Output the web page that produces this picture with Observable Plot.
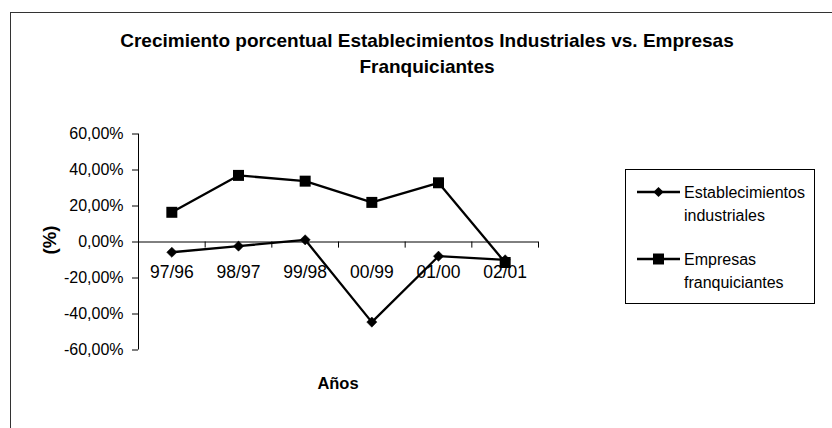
<!DOCTYPE html>
<html><head><meta charset="utf-8">
<script src="https://cdn.jsdelivr.net/npm/d3@7"></script>
<script src="https://cdn.jsdelivr.net/npm/@observablehq/plot@0.6"></script>
<style>
body{margin:0;background:#fff;font-family:"Liberation Sans",Arial,sans-serif;color:#000;}
#wrap{position:relative;width:832px;height:428px;overflow:hidden;background:#fff;}
#wrap svg.plot{position:absolute;left:0;top:0;}
#frame{position:absolute;left:10px;top:12px;width:900px;height:500px;border-top:1px solid #333;border-left:1px solid #333;}
#title{position:absolute;left:27px;width:800px;top:28px;text-align:center;font-weight:bold;font-size:19px;line-height:26px;}
#ylab{position:absolute;left:50px;top:240px;transform:translate(-50%,-50%) rotate(-90deg);font-weight:bold;font-size:18.5px;white-space:nowrap;}
#xlab{position:absolute;left:338px;top:383px;transform:translate(-50%,-50%);font-weight:bold;font-size:16.5px;}
#legend{position:absolute;left:625px;top:169px;width:190px;height:135px;border:1px solid #000;box-sizing:border-box;}
</style></head><body><div id="wrap"><div id="frame"></div></div>
<script>
const titleLines = ["Crecimiento porcentual Establecimientos Industriales vs. Empresas", "Franquiciantes"];
const yLabel = "(%)";
const xLabel = "Años";
const years = ["97/96","98/97","99/98","00/99","01/00","02/01"];
const establecimientos = [-5.7, -2.3, 1.2, -44.5, -7.9, -9.9];
const empresas = [16.5, 37.0, 33.8, 22.0, 32.9, -11.4];
const yTicks = [-60, -40, -20, 0, 20, 40, 60];
const seriesNames = ["Establecimientos industriales", "Empresas franquiciantes"];
const legendLines = [["Establecimientos", "industriales"], ["Empresas", "franquiciantes"]];

const rows = [];
years.forEach((y, i) => {
  rows.push({i, year: y, value: establecimientos[i], series: seriesNames[0]});
  rows.push({i, year: y, value: empresas[i], series: seriesNames[1]});
});
const boundaries = d3.range(years.length).map(i => i + 0.5);
const fmt = v => v.toFixed(2).replace(".", ",") + "%";

const wrap = document.getElementById("wrap");

const plot = Plot.plot({
  width: 832, height: 428,
  marginLeft: 138, marginRight: 294, marginTop: 133.5, marginBottom: 78.5,
  x: {type: "linear", domain: [-0.5, years.length - 0.5], axis: null},
  y: {domain: [-60, 60], axis: null},
  style: {fontFamily: "'Liberation Sans', Arial, sans-serif", fontSize: "16px", color: "#000", background: "transparent"},
  marks: [
    Plot.ruleX([-0.5], {stroke: "#000", strokeWidth: 1}),
    Plot.ruleY([0], {stroke: "#000", strokeWidth: 1}),
    Plot.ruleX(boundaries, {x: d => d, y1: 0, y2: -3.4, stroke: "#000"}),
    Plot.axisY(yTicks, {anchor: "left", tickSize: 6, tickPadding: 9, tickFormat: fmt, label: null, fontSize: 16}),
    Plot.text(years, {x: (d, i) => i, y: 0, dy: 30, text: d => d, fontSize: 17.5, fill: "#000"}),
    Plot.line(rows.filter(d => d.series === seriesNames[1]), {x: "i", y: "value", stroke: "#000", strokeWidth: 2.3}),
    Plot.line(rows.filter(d => d.series === seriesNames[0]), {x: "i", y: "value", stroke: "#000", strokeWidth: 2.3}),
    Plot.dot(rows.filter(d => d.series === seriesNames[1]), {x: "i", y: "value", symbol: "square", r: 6.2, fill: "#000", stroke: "none"}),
    Plot.dot(rows.filter(d => d.series === seriesNames[0]), {x: "i", y: "value", symbol: "diamond2", r: 4.6, fill: "#000", stroke: "#000", strokeWidth: 0.5})
  ]
});
plot.classList.add("plot");
wrap.appendChild(plot);

const title = document.createElement("div");
title.id = "title";
title.innerHTML = titleLines.join("<br>");
wrap.appendChild(title);

const yl = document.createElement("div");
yl.id = "ylab"; yl.textContent = yLabel; wrap.appendChild(yl);
const xl = document.createElement("div");
xl.id = "xlab"; xl.textContent = xLabel; wrap.appendChild(xl);

// legend
const legend = document.createElement("div");
legend.id = "legend";
wrap.appendChild(legend);
const lsvg = d3.select(legend).append("svg").attr("width", 190).attr("height", 135).style("position", "absolute").style("left", "-1px").style("top", "-1px");
const symbols = [d3.symbol(d3.symbolDiamond2, Math.PI * 4.6 * 4.6), d3.symbol(d3.symbolSquare, Math.PI * 6.2 * 6.2)];
const itemY = [23, 90];
seriesNames.forEach((s, k) => {
  const g = lsvg.append("g");
  g.append("line").attr("x1", 12).attr("x2", 55).attr("y1", itemY[k]).attr("y2", itemY[k]).attr("stroke", "#000").attr("stroke-width", 2.3);
  g.append("path").attr("d", symbols[k]()).attr("transform", `translate(33.5,${itemY[k]})`).attr("fill", "#000");
  legendLines[k].forEach((t, j) => {
    g.append("text").attr("x", 59).attr("y", itemY[k] + j * 23).attr("dy", "0.35em")
      .attr("font-size", 16).attr("font-family", "'Liberation Sans', Arial, sans-serif").text(t);
  });
});
</script>
</body></html>
